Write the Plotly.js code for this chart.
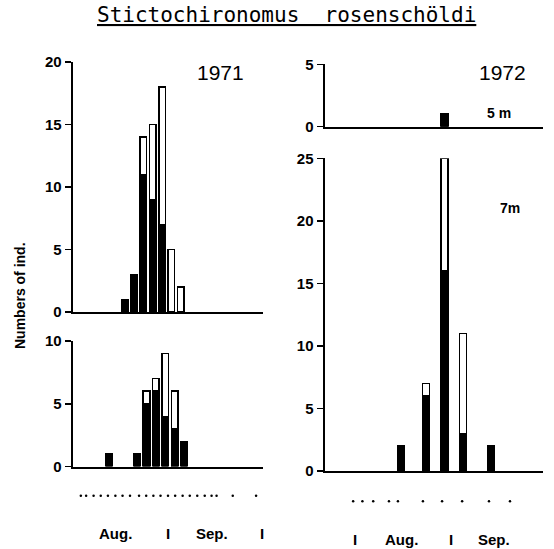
<!DOCTYPE html>
<html>
<head>
<meta charset="utf-8">
<script src="https://cdn.plot.ly/plotly-3.0.1.min.js"></script>
<style>
  html, body { margin: 0; padding: 0; background: #fff; }
  #chart { width: 554px; height: 549px; }
</style>
</head>
<body>
<div id="chart"></div>
<script>
// Days counted from 1 August (1 Aug = 0, 1 Sep = 31, 1 Oct = 61)

// 1971, upper panel
const days71a = [17, 20, 23, 26, 29, 32, 35];
const dark71a = [1, 3, 11, 9, 7, 0, 0];
const light71a = [0, 0, 3, 6, 11, 5, 2];

// 1971, lower panel
const days71b = [12, 21, 24, 27, 30, 33, 36];
const dark71b = [1, 1, 5, 6, 4, 3, 2];
const light71b = [0, 0, 1, 1, 5, 3, 0];

// 1972, 5 m
const days72a = [29];
const dark72a = [1];
const light72a = [0];

// 1972, 7 m
const days72b = [15, 23, 29, 35, 44];
const dark72b = [2, 6, 16, 3, 2];
const light72b = [0, 1, 9, 8, 0];

// sampling dates
const samples71 = [2.9, 4.6, 7.0, 9.3, 11.6, 14.0, 16.3, 18.7, 21.6, 23.9, 26.2, 28.5, 30.9, 33.2, 35.6, 37.9, 40.3, 42.7, 44.9, 46.5, 51.7, 59.2];
const samples72 = [-0.6, 2.4, 5.9, 11.0, 13.9, 22.0, 28.2, 34.7, 43.4, 50.2];

// month marks under each column
const monthDays71 = [14, 31, 45, 61];
const monthText71 = ['Aug.', 'I', 'Sep.', 'I'];
const monthDays72 = [0, 15, 31, 45];
const monthText72 = ['I', 'Aug.', 'I', 'Sep.'];

const W = 554, H = 549;
const px = v => v / W;
const py = v => 1 - v / H;

const sans = 'Liberation Sans, Arial, sans-serif';
const tickFont = { family: sans, size: 15, color: '#000', weight: 'bold' };
const labelFont = { family: sans, size: 15, color: '#000', weight: 'bold' };

function barPair(x, dark, light, xa, ya, w) {
  return [
    { type: 'bar', x: x, y: dark, xaxis: xa, yaxis: ya, width: w,
      marker: { color: '#000', line: { color: '#000', width: 1.5 } },
      hoverinfo: 'skip', showlegend: false },
    { type: 'bar', x: x, y: light, xaxis: xa, yaxis: ya, width: w,
      marker: { color: '#fff', line: { color: '#000', width: 1.5 } },
      hoverinfo: 'skip', showlegend: false }
  ];
}

const traces = [].concat(
  barPair(days71a, dark71a, light71a, 'x', 'y', 2.1),
  barPair(days71b, dark71b, light71b, 'x2', 'y2', 2.1),
  barPair(days72a, dark72a, light72a, 'x3', 'y3', 2.2),
  barPair(days72b, dark72b, light72b, 'x4', 'y4', 2.2),
  [
    { type: 'scatter', mode: 'markers', x: samples71, y: samples71.map(() => 0),
      xaxis: 'x2', yaxis: 'y5', marker: { color: '#000', size: 2.5 },
      hoverinfo: 'skip', showlegend: false },
    { type: 'scatter', mode: 'markers', x: samples72, y: samples72.map(() => 0),
      xaxis: 'x4', yaxis: 'y6', marker: { color: '#000', size: 2.5 },
      hoverinfo: 'skip', showlegend: false }
  ]
);

function xAxis(domain, range, anchor) {
  return { domain: domain, range: range, anchor: anchor, showline: true,
    linecolor: '#000', linewidth: 2, ticks: '', showticklabels: false,
    showgrid: false, zeroline: false, fixedrange: true };
}
function yAxis(domain, range, tickvals, anchor) {
  return { domain: domain, range: range, anchor: anchor, showline: true,
    linecolor: '#000', linewidth: 2, ticks: 'outside', ticklen: 6,
    tickwidth: 1.5, tickcolor: '#000', tickvals: tickvals, tickfont: tickFont,
    showgrid: false, zeroline: false, fixedrange: true };
}

const leftDom = [px(72.7), px(263)];
const rightDom = [px(324.5), px(543)];
const leftRange = [0.29, 61.42];
const rightRange = [-9.88, 60.9];

const annotations = [
  { text: '<u>Stictochironomus  rosenschöldi</u>', xref: 'paper', yref: 'paper',
    x: px(286), y: py(15), xanchor: 'center', yanchor: 'middle', showarrow: false,
    font: { family: 'DejaVu Sans Mono, monospace', size: 21, color: '#000' } },
  { text: 'Numbers of ind.', xref: 'paper', yref: 'paper', x: px(20), y: py(296),
    xanchor: 'center', yanchor: 'middle', textangle: -90, showarrow: false,
    font: { family: sans, size: 14, color: '#000', weight: 'bold' } },
  { text: '1971', xref: 'paper', yref: 'paper', x: px(220), y: py(73),
    xanchor: 'center', yanchor: 'middle', showarrow: false,
    font: { family: sans, size: 21, color: '#000' } },
  { text: '1972', xref: 'paper', yref: 'paper', x: px(502), y: py(72),
    xanchor: 'center', yanchor: 'middle', showarrow: false,
    font: { family: sans, size: 21, color: '#000' } },
  { text: '5 m', xref: 'paper', yref: 'paper', x: px(499), y: py(113),
    xanchor: 'center', yanchor: 'middle', showarrow: false,
    font: { family: sans, size: 14, color: '#000', weight: 'bold' } },
  { text: '7m', xref: 'paper', yref: 'paper', x: px(510), y: py(208),
    xanchor: 'center', yanchor: 'middle', showarrow: false,
    font: { family: sans, size: 14, color: '#000', weight: 'bold' } }
];
monthDays71.forEach((d, i) => annotations.push({
  text: monthText71[i], xref: 'x2', yref: 'paper', x: d, y: py(533),
  xanchor: 'center', yanchor: 'middle', showarrow: false, font: labelFont }));
monthDays72.forEach((d, i) => annotations.push({
  text: monthText72[i], xref: 'x4', yref: 'paper', x: d, y: py(539),
  xanchor: 'center', yanchor: 'middle', showarrow: false, font: labelFont }));

const layout = {
  width: W, height: H,
  margin: { l: 0, r: 0, t: 0, b: 0 },
  paper_bgcolor: '#fff', plot_bgcolor: 'rgba(0,0,0,0)',
  barmode: 'stack',
  showlegend: false,
  xaxis: xAxis(leftDom, leftRange, 'y'),
  yaxis: yAxis([py(312), py(62)], [0, 20], [0, 5, 10, 15, 20], 'x'),
  xaxis2: xAxis(leftDom, leftRange, 'y2'),
  yaxis2: yAxis([py(466.5), py(341)], [0, 10], [0, 5, 10], 'x2'),
  xaxis3: xAxis(rightDom, rightRange, 'y3'),
  yaxis3: yAxis([py(126.7), py(64.3)], [0, 5], [0, 5], 'x3'),
  xaxis4: xAxis(rightDom, rightRange, 'y4'),
  yaxis4: yAxis([py(471), py(158.3)], [0, 25], [0, 5, 10, 15, 20, 25], 'x4'),
  yaxis5: { domain: [py(498), py(493.5)], range: [-1, 1], anchor: 'x2', visible: false, fixedrange: true },
  yaxis6: { domain: [py(503.5), py(499)], range: [-1, 1], anchor: 'x4', visible: false, fixedrange: true },
  annotations: annotations
};

Plotly.newPlot('chart', traces, layout, { displayModeBar: false, staticPlot: true });
</script>
</body>
</html>
